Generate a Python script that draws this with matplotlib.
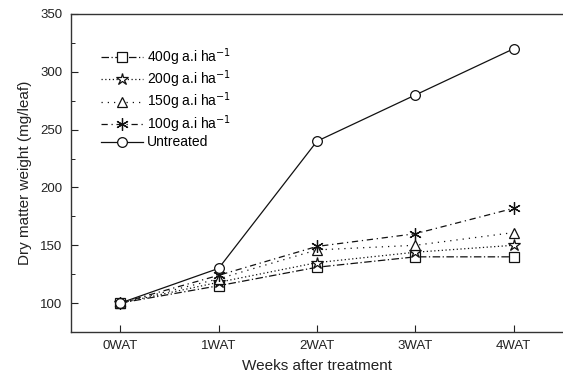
import matplotlib.pyplot as plt
from matplotlib.ticker import MultipleLocator

plt.rcParams['font.family'] = ['Liberation Sans', 'DejaVu Sans']

weeks = ['0WAT', '1WAT', '2WAT', '3WAT', '4WAT']
dose_400 = [100, 115, 131, 140, 140]
dose_200 = [100, 118, 135, 144, 150]
dose_150 = [100, 121, 146, 150, 161]
dose_100 = [100, 124, 149, 160, 182]
untreated = [100, 130, 240, 280, 320]

series = [
    ('400g a.i ha$^{-1}$', dose_400, 's', (0, (6, 2, 1, 2))),
    ('200g a.i ha$^{-1}$', dose_200, '*', (0, (1, 2))),
    ('150g a.i ha$^{-1}$', dose_150, '^', (0, (1, 4))),
    ('100g a.i ha$^{-1}$', dose_100, (6, 2, 0), (0, (5, 3, 1, 3))),
    ('Untreated', untreated, 'o', '-'),
]

fig = plt.figure(figsize=(5.63, 3.76), dpi=100)
ax = fig.add_axes([71 / 563, 44 / 376, 492 / 563, 318 / 376])

x = list(range(len(weeks)))
for label, vals, marker, ls in series:
    ms = 9 if marker == '*' or marker == (6, 2, 0) else 7
    ax.plot(x, vals, color='#111111', linestyle=ls, linewidth=0.9,
            marker=marker, markersize=ms, markerfacecolor='white',
            markeredgecolor='#111111', markeredgewidth=0.9, label=label)

ax.set_xlim(-0.5, 4.5)
ax.set_ylim(75, 350)
ax.set_xticks(x)
ax.set_xticklabels(weeks)
ax.yaxis.set_major_locator(MultipleLocator(50))
ax.yaxis.set_minor_locator(MultipleLocator(25))
ax.set_yticks([100, 150, 200, 250, 300, 350])
ax.tick_params(axis='both', which='major', direction='in', length=5,
               labelsize=9.5, colors='#222222', pad=6)
ax.tick_params(axis='y', which='minor', direction='in', length=3)
ax.spines['right'].set_visible(False)
for s in ['left', 'top', 'bottom']:
    ax.spines[s].set_linewidth(1.0)
    ax.spines[s].set_color('#333333')

ax.set_xlabel('Weeks after treatment', fontsize=11, color='#222222', labelpad=5)
ax.set_ylabel('Dry matter weight (mg/leaf)', fontsize=11, color='#222222', labelpad=6)

ax.legend(loc='upper left', bbox_to_anchor=(0.05, 0.916), frameon=False,
          fontsize=10, handlelength=3, handletextpad=0.3, labelspacing=0.05,
          borderaxespad=0)

plt.savefig('out.png', dpi=100)
plt.close()
